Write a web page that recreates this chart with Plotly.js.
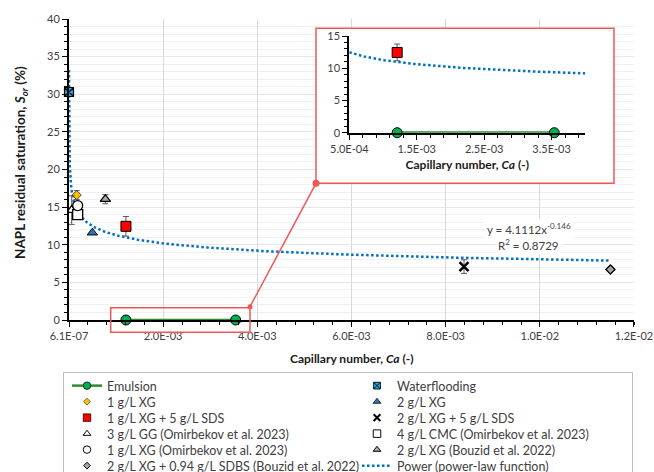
<!DOCTYPE html>
<html><head><meta charset="utf-8">
<script src="https://cdn.plot.ly/plotly-3.0.1.min.js"></script>
<style>html,body{margin:0;padding:0;background:#fff}#chart{width:654px;height:472px}</style>
</head><body><div id="chart"></div>
<script>
// ---------- data ----------
const emulsionCa = [1.21e-3, 3.54e-3];
const emulsionSor = [0, 0];
const waterCa = [6.1e-7];
const waterSor = [30.3];
const xg1Ca = [1.64e-4];
const xg1Sor = [16.6];
const xg1Err = [0.6];
const xg2Ca = [4.96e-4];
const xg2Sor = [11.6];
const xg1sdsCa = [1.21e-3];
const xg1sdsSor = [12.45];
const xg1sdsErr = [1.3];
const xg2sdsCa = [8.39e-3];
const xg2sdsSor = [7.1];
const xg2sdsErr = [0.9];
const ggOmCa = [5.7e-5];
const ggOmSor = [14.6];
const ggOmErr = [1.9];
const cmcOmCa = [1.85e-4];
const cmcOmSor = [14.0];
const cmcOmErr = [0.5];
const xgOmCa = [1.85e-4];
const xgOmSor = [15.2];
const xgBoCa = [7.73e-4];
const xgBoSor = [16.05];
const xgBoErr = [0.6];
const sdbsBoCa = [1.15e-2];
const sdbsBoSor = [6.7];
// power-law trendline as printed on the chart: y = 4.1112 x^-0.146, R2 = 0.8729
const powerA = 4.1112;
const powerB = -0.146;
const powerR2 = '0.8729';
const xTickVals = [6.1e-7, 0.002, 0.004, 0.006, 0.008, 0.010, 0.012];
const xTickText = ['6.1E-07', '2.0E-03', '4.0E-03', '6.0E-03', '8.0E-03', '1.0E-02', '1.2E-02'];
const insetTickVals = [5e-4, 1.5e-3, 2.5e-3, 3.5e-3];
const insetTickText = ['5.0E-04', '1.5E-03', '2.5E-03', '3.5E-03'];
const insetRange = [5e-4, 4e-3];

// ---------- trendline from the printed equation ----------
const allCa = [].concat(emulsionCa, waterCa, xg1Ca, xg2Ca, xg1sdsCa, xg2sdsCa, ggOmCa, cmcOmCa, xgOmCa, xgBoCa, sdbsBoCa);
const caMin = Math.min(...allCa), caMax = Math.max(...allCa);
function powerCurve(a, b, n) {
  const xs = [], ys = [];
  for (let i = 0; i <= n; i++) {
    const x = a * Math.pow(b / a, i / n);
    xs.push(x); ys.push(powerA * Math.pow(x, powerB));
  }
  return [xs, ys];
}
const [trendX, trendY] = powerCurve(caMin, caMax, 400);
const [insetTrendX, insetTrendY] = powerCurve(insetRange[0], insetRange[1], 120);

const FONT = 'Lato, "Open Sans", sans-serif';
const TXT = '#404040';
const TITLE = '#1A1A1A';
const ERRC = '#595959';
const GREEN_LINE = '#2E8B2E', GREEN_FILL = '#00B050';
const TRENDC = '#0070C0';
const BOXC = '#F25555';

function err(v) { return {type: 'data', array: v, visible: true, color: ERRC, thickness: 1, width: 3}; }

const traces = [
  {name: 'Power (power-law function)', x: trendX, y: trendY, mode: 'lines', line: {color: TRENDC, width: 2.5, dash: '2.5px,2.5px'}, legendrank: 12, hoverinfo: 'skip'},
  {name: 'Emulsion', x: emulsionCa, y: emulsionSor, mode: 'lines+markers', line: {color: GREEN_LINE, width: 2.5}, marker: {symbol: 'circle', size: 10, color: GREEN_FILL, line: {color: '#000', width: 1}}, legendrank: 1, cliponaxis: false},
  {name: 'Waterflooding', x: waterCa, y: waterSor, mode: 'markers', marker: {symbol: 'square-x', size: 9, color: '#1AAEEA', line: {color: '#000', width: 1.2}}, legendrank: 2, cliponaxis: false},
  {name: '1 g/L XG', x: xg1Ca, y: xg1Sor, error_y: err(xg1Err), mode: 'markers', marker: {symbol: 'diamond', size: 7, color: '#FFC000', line: {color: '#404040', width: 1}}, legendrank: 3},
  {name: '2 g/L XG', x: xg2Ca, y: xg2Sor, mode: 'markers', marker: {symbol: 'triangle-up', size: 9, color: '#2E75B6', line: {color: '#000', width: 1}}, legendrank: 4},
  {name: '1 g/L XG + 5 g/L SDS', x: xg1sdsCa, y: xg1sdsSor, error_y: err(xg1sdsErr), mode: 'markers', marker: {symbol: 'square', size: 10, color: '#FF0000', line: {color: '#000', width: 1}}, legendrank: 5},
  {name: '2 g/L XG + 5 g/L SDS', x: xg2sdsCa, y: xg2sdsSor, error_y: err(xg2sdsErr), mode: 'markers', marker: {symbol: 'x-thin', size: 9, color: '#000', line: {color: '#000', width: 2.5}}, legendrank: 6},
  {name: '3 g/L GG (Omirbekov et al. 2023)', x: ggOmCa, y: ggOmSor, error_y: err(ggOmErr), mode: 'markers', marker: {symbol: 'triangle-up', size: 9, color: '#fff', line: {color: '#000', width: 1.3}}, legendrank: 7},
  {name: '4 g/L CMC (Omirbekov et al. 2023)', x: cmcOmCa, y: cmcOmSor, error_y: err(cmcOmErr), mode: 'markers', marker: {symbol: 'square', size: 10, color: '#fff', line: {color: '#000', width: 1.3}}, legendrank: 8},
  {name: '1 g/L XG (Omirbekov et al. 2023)', x: xgOmCa, y: xgOmSor, mode: 'markers', marker: {symbol: 'circle', size: 10, color: '#fff', line: {color: '#000', width: 1.3}}, legendrank: 9},
  {name: '2 g/L XG (Bouzid et al. 2022)', x: xgBoCa, y: xgBoSor, error_y: err(xgBoErr), mode: 'markers', marker: {symbol: 'triangle-up', size: 9, color: '#A6A6A6', line: {color: '#000', width: 1.3}}, legendrank: 10},
  {name: '2 g/L XG + 0.94 g/L SDBS (Bouzid et al. 2022)', x: sdbsBoCa, y: sdbsBoSor, mode: 'markers', marker: {symbol: 'diamond', size: 7, color: '#A6A6A6', line: {color: '#000', width: 1.3}}, legendrank: 11},
  // white cover behind the inset (its own subplot background)
  {x: [null], y: [null], xaxis: 'x2', yaxis: 'y2', mode: 'markers', showlegend: false, hoverinfo: 'skip'},
  // inset
  {x: insetTrendX, y: insetTrendY, xaxis: 'x3', yaxis: 'y3', mode: 'lines', line: {color: TRENDC, width: 2.5, dash: '2.5px,2.5px'}, showlegend: false, hoverinfo: 'skip'},
  {x: emulsionCa, y: emulsionSor, xaxis: 'x3', yaxis: 'y3', mode: 'lines+markers', line: {color: GREEN_LINE, width: 3}, marker: {symbol: 'circle', size: 10, color: GREEN_FILL, line: {color: '#000', width: 1}}, showlegend: false, cliponaxis: false},
  {x: xg1sdsCa, y: xg1sdsSor, xaxis: 'x3', yaxis: 'y3', error_y: err(xg1sdsErr), mode: 'markers', marker: {symbol: 'square', size: 10, color: '#FF0000', line: {color: '#000', width: 1}}, showlegend: false}
];

function px2x(p) { return (p - 69) / 565; }
function px2y(p) { return (320 - p) / 301; }

const axisCommon = {showline: true, linecolor: '#000', linewidth: 2, zeroline: false, ticks: 'outside', tickcolor: '#000', tickwidth: 1, ticklen: 5, tickfont: {family: FONT, size: 11, color: TXT}};

const layout = {
  width: 654, height: 472,
  margin: {l: 69, r: 20, t: 19, b: 152, autoexpand: false},
  paper_bgcolor: '#fff', plot_bgcolor: '#fff',
  font: {family: FONT, size: 11, color: TXT},
  showlegend: true,
  legend: {orientation: 'h', x: px2x(63), xanchor: 'left', y: px2y(372), yanchor: 'top', entrywidth: 250, entrywidthmode: 'pixels',
           bordercolor: '#BFBFBF', borderwidth: 1, bgcolor: '#fff', font: {family: FONT, size: 12.5, color: TXT}, traceorder: 'normal'},
  xaxis: Object.assign({}, axisCommon, {domain: [0, 1], anchor: 'y', range: [6.1e-7, 0.01200061], tickmode: 'array', tickvals: xTickVals, ticktext: xTickText,
           showgrid: true, gridcolor: '#D9D9D9', gridwidth: 1,
           minor: {tickmode: 'linear', tick0: 6.1e-7, dtick: 0.0004, ticks: 'outside', ticklen: 3, tickcolor: '#000', showgrid: false}}),
  yaxis: Object.assign({}, axisCommon, {domain: [0, 1], anchor: 'x', range: [0, 40], tick0: 0, dtick: 5, showgrid: true, gridcolor: '#E6E6E6',
           minor: {dtick: 1, ticks: 'outside', ticklen: 3, tickcolor: '#000', showgrid: true, gridcolor: '#F0F0F0'}}),
  xaxis2: {domain: [px2x(316), px2x(614)], anchor: 'y2', range: [0, 1], visible: false},
  yaxis2: {domain: [px2y(183.3), px2y(28.3)], anchor: 'x2', range: [0, 1], visible: false},
  xaxis3: Object.assign({}, axisCommon, {domain: [px2x(349.3), px2x(585.3)], anchor: 'y3', range: insetRange, tickmode: 'array', tickvals: insetTickVals, ticktext: insetTickText,
           showgrid: false, minor: {tickmode: 'linear', tick0: 5e-4, dtick: 2e-4, ticks: 'outside', ticklen: 3, tickcolor: '#000', showgrid: false},
           title: {text: '<b>Capillary number, <i>Ca</i> (-)</b>', font: {family: FONT, size: 12, color: TITLE}, standoff: 7}}),
  yaxis3: Object.assign({}, axisCommon, {domain: [px2y(132.7), px2y(36)], anchor: 'x3', range: [0, 15], tick0: 0, dtick: 5, showgrid: false,
           minor: {dtick: 1, ticks: 'outside', ticklen: 3, tickcolor: '#000', showgrid: false}}),
  annotations: [
    {text: '<b>Capillary number, <i>Ca</i> (-)</b>', xref: 'paper', yref: 'paper', x: px2x(351.5), y: px2y(358), xanchor: 'center', yanchor: 'middle', showarrow: false, font: {family: FONT, size: 12, color: TITLE}},
    {text: '<b>NAPL residual saturation, <i>S</i><sub><i>or</i></sub> (%)</b>', xref: 'paper', yref: 'paper', x: px2x(21), y: px2y(163), xanchor: 'center', yanchor: 'middle', textangle: -90, showarrow: false, font: {family: FONT, size: 13.5, color: TITLE}},
    {text: 'y = ' + powerA + 'x<sup>' + powerB + '</sup>', xref: 'paper', yref: 'paper', x: px2x(529), y: px2y(228), xanchor: 'center', yanchor: 'middle', align: 'center', showarrow: false, bgcolor: '#fff', borderpad: 2, font: {family: FONT, size: 11.5, color: TXT}},
    {text: 'R<sup>2</sup> = ' + powerR2, xref: 'paper', yref: 'paper', x: px2x(528.5), y: px2y(244), xanchor: 'center', yanchor: 'middle', align: 'center', showarrow: false, bgcolor: '#fff', borderpad: 2, font: {family: FONT, size: 11.5, color: TXT}}
  ],
  shapes: [
    {type: 'rect', xref: 'paper', yref: 'paper', x0: px2x(316), x1: px2x(614), y0: px2y(183.3), y1: px2y(28.3), line: {color: BOXC, width: 1.5}, layer: 'above'},
    {type: 'rect', xref: 'paper', yref: 'paper', x0: px2x(110.7), x1: px2x(250), y0: px2y(332.3), y1: px2y(307.7), line: {color: BOXC, width: 1.5}, layer: 'above'},
    {type: 'line', xref: 'paper', yref: 'paper', x0: px2x(250), y0: px2y(306.7), x1: px2x(316), y1: px2y(183.3), line: {color: BOXC, width: 1.5}, layer: 'above'},
    {type: 'circle', xref: 'paper', yref: 'paper', xsizemode: 'pixel', ysizemode: 'pixel', xanchor: px2x(250), yanchor: px2y(306.7), x0: -2.5, x1: 2.5, y0: -2.5, y1: 2.5, fillcolor: BOXC, line: {width: 0}, layer: 'above'},
    {type: 'circle', xref: 'paper', yref: 'paper', xsizemode: 'pixel', ysizemode: 'pixel', xanchor: px2x(316), yanchor: px2y(183.3), x0: -3.5, x1: 3.5, y0: -3.5, y1: 3.5, fillcolor: BOXC, line: {width: 0}, layer: 'above'}
  ]
};

Plotly.newPlot('chart', traces, layout, {displayModeBar: false, staticPlot: true}).then(function (gd) {
  // match the reference legend grid: 16 px rows, 290 px columns, smaller symbols
  const items = Array.from(gd.querySelectorAll('.legend .traces'));
  const parse = function (el) {
    const m = /translate\(\s*([-\d.e]+)[\s,]+([-\d.e]+)\s*\)/.exec(el.getAttribute('transform') || '');
    return m ? [parseFloat(m[1]), parseFloat(m[2])] : null;
  };
  const pos = items.map(parse);
  if (pos.every(Boolean)) {
    const xs = Array.from(new Set(pos.map(p => p[0]))).sort((a, b) => a - b);
    const ys = Array.from(new Set(pos.map(p => p[1]))).sort((a, b) => a - b);
    items.forEach(function (el, i) {
      const c = xs.indexOf(pos[i][0]);
      const r = ys.indexOf(pos[i][1]);
      el.setAttribute('transform', 'translate(' + (xs[0] + 3 + c * 290) + ',' + (ys[0] - 2 + r * 16) + ')');
    });
  }
  gd.querySelectorAll('.legend .legendpoints path').forEach(function (p) {
    if (p.classList.contains('js-line')) return;
    p.setAttribute('transform', (p.getAttribute('transform') || '') + ' scale(0.75)');
  });
  const bg = gd.querySelector('.legend rect.bg');
  if (bg) { bg.setAttribute('width', 569); bg.setAttribute('height', 200); }
  document.querySelectorAll('clipPath[id*="legend"] rect').forEach(function (r) {
    r.setAttribute('width', 700); r.setAttribute('height', 300);
  });
});
</script>
</body></html>
